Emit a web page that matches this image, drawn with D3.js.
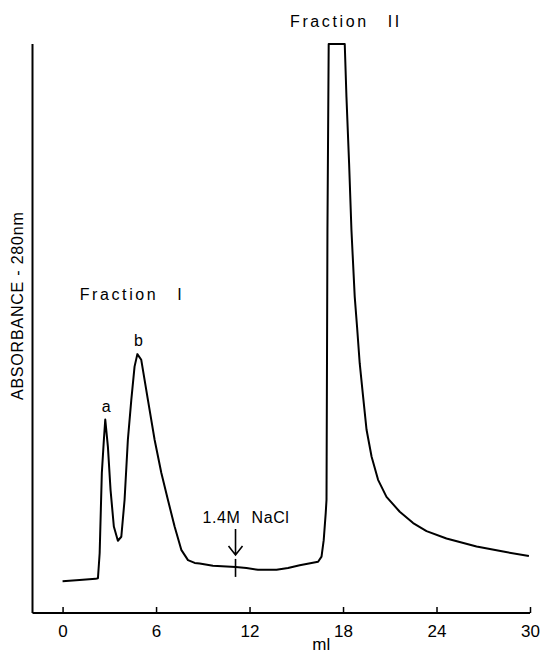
<!DOCTYPE html>
<html>
<head>
<meta charset="utf-8">
<script src="https://cdn.jsdelivr.net/npm/d3@7"></script>
<style>
  html, body { margin: 0; padding: 0; background: #fff; }
  svg { display: block; }
  text { font-family: "Liberation Sans", Arial, Helvetica, sans-serif; fill: #000; }
</style>
</head>
<body>
<svg id="chart" width="541" height="655"></svg>
<script>
// ---- data (elution volume in ml, relative absorbance at 280 nm) ----
const volumeMl = [0.0, 1.09, 2.12, 2.27, 2.38, 2.52, 2.65, 2.74, 2.91, 3.08, 3.29, 3.55, 3.77, 3.98, 4.19, 4.41, 4.62, 4.80, 5.05, 5.48, 5.91, 6.34, 6.76, 7.19, 7.62, 8.05, 8.48, 8.80, 9.65, 11.11, 11.80, 12.54, 13.73, 14.47, 15.22, 16.40, 16.62, 16.76, 16.89, 16.94, 17.00, 17.08, 18.11, 18.22, 18.39, 18.54, 18.75, 18.90, 19.07, 19.29, 19.51, 19.83, 20.25, 20.79, 21.64, 22.50, 23.36, 24.64, 26.57, 28.28, 29.93];
const absorbance = [0.056, 0.058, 0.060, 0.061, 0.105, 0.246, 0.304, 0.340, 0.292, 0.216, 0.152, 0.127, 0.134, 0.199, 0.304, 0.374, 0.433, 0.455, 0.445, 0.374, 0.304, 0.246, 0.199, 0.152, 0.111, 0.093, 0.088, 0.087, 0.083, 0.081, 0.079, 0.076, 0.076, 0.079, 0.084, 0.090, 0.099, 0.128, 0.176, 0.199, 0.673, 1.0, 1.0, 0.907, 0.790, 0.673, 0.556, 0.503, 0.439, 0.380, 0.322, 0.275, 0.234, 0.204, 0.178, 0.158, 0.144, 0.131, 0.117, 0.108, 0.100];
const xTicks = [0, 6, 12, 18, 24, 30];
const xLabel = "ml";
const yLabel = "ABSORBANCE - 280nm";
const peakLabels = [ { text: "a", x: 2.74, y: 0.340 }, { text: "b", x: 4.80, y: 0.455 } ];
const fractionLabels = [ { text: "Fraction I", x: 1.1, y: 0.520 }, { text: "Fraction II", x: 14.6, y: 1.0 } ];
const naclLabel = "1.4M NaCl";
const naclVolume = 11.1;
const naclAbs = 0.081;

// ---- layout ----
const svg = d3.select("#chart");
const mLeft = 32.5, mRight = 530, mTop = 44, mBottom = 613;
const x = d3.scaleLinear().domain([-1.93, 30]).range([mLeft, mRight]);
const y = d3.scaleLinear().domain([0, 1]).range([mBottom, mTop]);

// axes
const xAxis = d3.axisBottom(x).tickValues(xTicks).tickSize(-6).tickPadding(15).tickFormat(d3.format("d"));
const gx = svg.append("g").attr("transform", `translate(0,${mBottom})`).call(xAxis);
gx.select(".domain").attr("d", `M${mLeft},0H${mRight}`).attr("stroke", "#000").attr("stroke-width", 2);
gx.selectAll(".tick line").attr("stroke", "#000").attr("stroke-width", 1.5);
gx.selectAll(".tick text").attr("font-size", 17).attr("fill", "#000")
  .style("font-family", "'Liberation Sans', Arial, sans-serif").attr("dy", "0.55em");

svg.append("line").attr("x1", mLeft).attr("x2", mLeft).attr("y1", y(1)).attr("y2", mBottom)
  .attr("stroke", "#000").attr("stroke-width", 2);

// axis titles
svg.append("text").attr("x", x(16.6)).attr("y", 650).attr("text-anchor", "middle")
  .attr("font-size", 17).text(xLabel);
svg.append("text").attr("transform", `translate(23,${y(0.54)}) rotate(-90)`)
  .attr("text-anchor", "middle").attr("font-size", 16).style("letter-spacing", "0.8px").text(yLabel);

// trace
const pts = volumeMl.map((v, i) => [v, absorbance[i]]);
svg.append("path").datum(pts)
  .attr("d", d3.line().x(d => x(d[0])).y(d => y(d[1])))
  .attr("fill", "none").attr("stroke", "#000").attr("stroke-width", 2).attr("stroke-linejoin", "round");

// peak labels
svg.selectAll(".peak").data(peakLabels).enter().append("text")
  .attr("x", d => x(d.x) + 1).attr("y", d => y(d.y) - 8)
  .attr("text-anchor", "middle").attr("font-size", 16).text(d => d.text);

// fraction labels
svg.selectAll(".frac").data(fractionLabels).enter().append("text")
  .attr("x", d => x(d.x)).attr("y", d => y(d.y) - 17)
  .attr("font-size", 16).style("letter-spacing", "2.6px").style("word-spacing", "12px")
  .text(d => d.text);

// NaCl marker
const ax = x(naclVolume);
svg.append("text").attr("x", x(naclVolume) - 33).attr("y", 523)
  .attr("font-size", 16).style("letter-spacing", "0.6px").style("word-spacing", "6px").text(naclLabel);
svg.append("path").attr("d", `M${ax},529V555M${ax - 7},546L${ax},555L${ax + 7},546`)
  .attr("fill", "none").attr("stroke", "#000").attr("stroke-width", 1.6);
svg.append("line").attr("x1", ax).attr("x2", ax).attr("y1", y(naclAbs) - 8).attr("y2", y(naclAbs) + 10)
  .attr("stroke", "#000").attr("stroke-width", 1.6);
</script>
</body>
</html>
